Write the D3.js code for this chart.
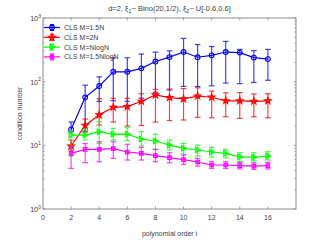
<!DOCTYPE html>
<html><head><meta charset="utf-8">
<script src="https://cdn.jsdelivr.net/npm/d3@7"></script>
<style>body{margin:0;background:#fff}svg{display:block;font-family:"Liberation Sans",Arial,sans-serif}</style>
</head><body>
<svg id="c" width="327" height="245"></svg>
<script>
const orders = [2,3,4,5,6,7,8,9,10,11,12,13,14,15,16];
const seriesNames = ["CLS M=1.5N","CLS M=2N","CLS M=NlogN","CLS M=1.5NlogN"];
const xTicks = [0,2,4,6,8,10,12,14,16];
const yTicks = [1,10,100,1000];

const blueMean = [17.8,56.7,85.3,143,143,162,207,243,292,242,259,292,286,239,226];
const blueHi   = [23.2,88,119,237,237,271,291,305,478,382,356,429,321,308,321];
const blueLo   = [16.3,16.7,49,50,49,55,68,74,84,84,86,95,93,97,105];

const redMean = [9.75,20.5,30.1,39.6,40.6,49.2,62.1,56.3,53.7,59.4,56.9,50.1,50.1,49.2,50.1];
const redHi   = [12.1,25.9,53.9,54.9,54.9,64.6,75.7,76.5,77.9,80.2,71.2,66.9,67.4,63.9,64.6];
const redLo   = [8.4,16.2,20.8,23.2,20.1,20.5,23.2,24.5,25,27.5,27.1,28.1,26.5,28.1,27.1];

const greenMean = [14.5,14.5,16.4,14.9,15.0,12.6,11.7,10.1,8.97,8.44,7.85,7.48,6.60,6.48,6.79];
const greenHi   = [16.4,17.8,23.5,18.5,18.9,16.4,14.9,12.1,10.7,10.1,9.3,8.65,7.66,7.66,7.94];
const greenLo   = [6.8,12.1,10.7,12.1,11.8,9.75,8.65,8.44,7.3,6.79,6.55,6.32,5.57,5.67,5.88];

const magMean = [7.49,8.65,8.65,8.85,7.85,7.49,6.87,6.39,5.98,5.47,4.91,4.91,4.79,4.73,4.79];
const magHi   = [9.51,10.7,11.4,11.4,10.4,9.3,8.65,7.66,7.04,6.25,5.53,5.53,5.41,5.33,5.41];
const magLo   = [4.35,5.33,5.53,6.25,5.88,5.88,5.53,5.33,5.03,4.73,4.35,4.35,4.25,4.2,4.25];

const colors = ["#0000ff","#ff0000","#00ff00","#ff00ff"];
const markers = ["circle","star","triangle","square"];
const series = [
  {mean:blueMean,hi:blueHi,lo:blueLo},
  {mean:redMean,hi:redHi,lo:redLo},
  {mean:greenMean,hi:greenHi,lo:greenLo},
  {mean:magMean,hi:magHi,lo:magLo}
];

const L=43,R=296,T=18,B=209;
const svg=d3.select("#c");
const x=d3.scaleLinear().domain([0,18]).range([L,R]);
const y=d3.scaleLog().domain([1,1000]).range([B,T]);
const axisCol="#8c8c8c", txtCol="#404040";

svg.append("rect").attr("x",L).attr("y",T).attr("width",R-L).attr("height",B-T)
  .attr("fill","#fff").attr("stroke",axisCol).attr("stroke-width",1);

const g=svg.append("g").attr("stroke",axisCol).attr("stroke-width",0.8);
xTicks.forEach(t=>{ if(t===0) return;
  g.append("line").attr("x1",x(t)).attr("x2",x(t)).attr("y1",B).attr("y2",B-2.5);
  g.append("line").attr("x1",x(t)).attr("x2",x(t)).attr("y1",T).attr("y2",T+2.5);
});
const minor=[];
for(let d=1;d<1000;d*=10) for(let k=2;k<=9;k++) minor.push(d*k);
minor.forEach(v=>{
  g.append("line").attr("x1",L).attr("x2",L+1.5).attr("y1",y(v)).attr("y2",y(v));
  g.append("line").attr("x1",R).attr("x2",R-1.5).attr("y1",y(v)).attr("y2",y(v));
});
yTicks.forEach(v=>{
  g.append("line").attr("x1",L).attr("x2",L+2.5).attr("y1",y(v)).attr("y2",y(v));
  g.append("line").attr("x1",R).attr("x2",R-2.5).attr("y1",y(v)).attr("y2",y(v));
});

xTicks.forEach(t=>{
  svg.append("text").attr("x",x(t)).attr("y",B+11).attr("text-anchor","middle")
    .attr("font-size",7).attr("fill",txtCol).text(t);
});
yTicks.forEach(v=>{
  const e=Math.round(Math.log10(v));
  const tx=svg.append("text").attr("x",L-2).attr("y",y(v)+3).attr("text-anchor","end")
    .attr("font-size",7).attr("fill",txtCol);
  tx.append("tspan").text("10");
  tx.append("tspan").attr("dy",-3.5).attr("font-size",5.5).text(e);
});

svg.append("text").attr("x",(L+R)/2).attr("y",236).attr("text-anchor","middle")
  .attr("font-size",7).attr("fill",txtCol).text("polynomial order i");
svg.append("text").attr("transform",`translate(22,${(T+B)/2}) rotate(-90)`).attr("text-anchor","middle")
  .attr("font-size",7).attr("fill",txtCol).text("condition number");
const ti=svg.append("text").attr("x",(L+R)/2).attr("y",11).attr("text-anchor","middle")
  .attr("font-size",7.5).attr("fill",txtCol);
ti.append("tspan").text("d=2, ξ");
ti.append("tspan").attr("dy",2).attr("font-size",5.5).text("1");
ti.append("tspan").attr("dy",-2).text("~ Bino(20,1/2), ξ");
ti.append("tspan").attr("dy",2).attr("font-size",5.5).text("2");
ti.append("tspan").attr("dy",-2).text("~ U[-0.6,0.6]");

function markerPath(type){
  if(type==="circle") return d3.symbol(d3.symbolCircle,18)();
  if(type==="star") return d3.symbol(d3.symbolStar,14)();
  if(type==="square") return d3.symbol(d3.symbolSquare,13)();
  if(type==="triangle") return "M-2,-2.8L3,0L-2,2.8Z";
}

const line=d3.line().x(d=>x(d[0])).y(d=>y(d[1]));
series.forEach((s,si)=>{
  const col=colors[si];
  const sg=svg.append("g");
  orders.forEach((o,i)=>{
    const cx=x(o);
    sg.append("line").attr("x1",cx).attr("x2",cx).attr("y1",y(s.lo[i])).attr("y2",y(s.hi[i]))
      .attr("stroke",col).attr("stroke-width",1.2).attr("stroke-opacity",0.75);
    [s.lo[i],s.hi[i]].forEach(v=>{
      sg.append("line").attr("x1",cx-2.8).attr("x2",cx+2.8).attr("y1",y(v)).attr("y2",y(v))
        .attr("stroke",col).attr("stroke-width",1.2).attr("stroke-opacity",0.75);
    });
  });
  sg.append("path").datum(orders.map((o,i)=>[o,s.mean[i]])).attr("d",line)
    .attr("fill","none").attr("stroke",col).attr("stroke-width",1.2);
  orders.forEach((o,i)=>{
    sg.append("path").attr("d",markerPath(markers[si]))
      .attr("transform",`translate(${x(o)},${y(s.mean[i])})`)
      .attr("fill",markers[si]==="circle"?"none":col).attr("fill-opacity",markers[si]==="circle"?0:0.5)
      .attr("stroke",col).attr("stroke-width",1.1);
  });
});

seriesNames.forEach((n,i)=>{
  const ly=27.5+i*9.8;
  const col=colors[i];
  svg.append("line").attr("x1",44).attr("x2",60).attr("y1",ly).attr("y2",ly)
    .attr("stroke",col).attr("stroke-width",1.2);
  svg.append("line").attr("x1",52).attr("x2",52).attr("y1",ly-3).attr("y2",ly+3)
    .attr("stroke",col).attr("stroke-width",1.2);
  [ly-3,ly+3].forEach(v=>svg.append("line").attr("x1",50).attr("x2",54).attr("y1",v).attr("y2",v)
    .attr("stroke",col).attr("stroke-width",1.1));
  svg.append("path").attr("d",markerPath(markers[i])).attr("transform",`translate(52,${ly})`)
    .attr("fill",markers[i]==="circle"?"none":col).attr("fill-opacity",0.5)
    .attr("stroke",col).attr("stroke-width",1.1);
  svg.append("text").attr("x",64).attr("y",ly+2.5).attr("font-size",7).attr("fill",txtCol).text(n);
});
</script>
</body></html>
